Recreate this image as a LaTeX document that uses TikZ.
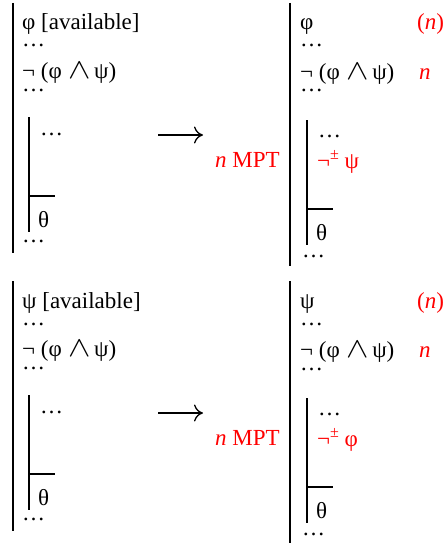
\documentclass[tikz,border=0pt]{standalone}
\usepackage{fontspec}
\usepackage{graphicx}
\setmainfont{Liberation Serif}
\usetikzlibrary{arrows.meta}
\newcommand\fs{\fontsize{23}{24}\selectfont}
\newcommand\andsym{\scalebox{1.35}[1.15]{\(\wedge\)}}
\newcommand\pmsup{\raisebox{0.36em}{\fontsize{16}{16}\selectfont ±}}
\newcommand\negconj{¬ (φ\hspace{7pt}\andsym\hspace{3pt}ψ)}
\newcommand\mypanel[4]{%
\begin{scope}[yshift=#2]
 % left derivation
 \coordinate (#1-lt) at (13,3); \coordinate (#1-lb) at (13,253);
 \draw[outerbar] (#1-lt) -- (#1-lb);
 \node[txt] (#1-l1) at (22,30) {#3 [available]};
 \node[dots] (#1-d1) at (22,47) {…};
 \node[txt] (#1-l2) at (22,78) {\negconj};
 \node[dots] (#1-d2) at (22,91) {…};
 \coordinate (#1-it) at (29,117); \coordinate (#1-ib) at (29,232);
 \draw[innerbar] (#1-it) -- (#1-ib);
 \node[dots] (#1-d3) at (40,135) {…};
 \coordinate (#1-hl) at (29,196); \coordinate (#1-hr) at (55,196);
 \draw[rulebar] (#1-hl) -- (#1-hr);
 \node[txt] (#1-th) at (38,227) {θ};
 \node[dots] (#1-d4) at (22,242) {…};
 % arrow
 \coordinate (#1-as) at (158,135); \coordinate (#1-ae) at (203,135);
 \draw[arr] (#1-as) -- (#1-ae);
 \node[txt,hl] (#1-mpt) at (215,167) {\textit{n} MPT};
 % right derivation
 \coordinate (#1-rt) at (290,3); \coordinate (#1-rb) at (290,266);
 \draw[outerbar] (#1-rt) -- (#1-rb);
 \node[txt] (#1-r1) at (300,30) {#3};
 \node[txt,hl] (#1-rn1) at (417,30) {(\textit{n})};
 \node[dots] (#1-rd1) at (300,47) {…};
 \node[txt] (#1-r2) at (300,79) {\negconj};
 \node[txt,hl] (#1-rn2) at (419,79) {\textit{n}};
 \node[dots] (#1-rd2) at (300,92) {…};
 \coordinate (#1-rit) at (307,120); \coordinate (#1-rib) at (307,245);
 \draw[innerbar] (#1-rit) -- (#1-rib);
 \node[dots] (#1-rd3) at (318,137) {…};
 \node[txt,hl] (#1-neg) at (317,168) {¬\pmsup\ #4};
 \coordinate (#1-rhl) at (307,209); \coordinate (#1-rhr) at (333,209);
 \draw[rulebar] (#1-rhl) -- (#1-rhr);
 \node[txt] (#1-rth) at (316,240) {θ};
 \node[dots] (#1-rd4) at (302,257) {…};
\end{scope}}
\begin{document}
\begin{tikzpicture}[x=1pt,y=-1pt,
  txt/.style={anchor=base west,inner sep=0pt,font=\fs},
  dots/.style={txt,text height=3pt,text depth=0pt},
  hl/.style={text=red},
  outerbar/.style={line width=1.7pt},
  innerbar/.style={line width=1.2pt},
  rulebar/.style={line width=1.2pt},
  arr/.style={line width=1.3pt,-{Computer Modern Rightarrow[length=9pt,width=17pt]}}]
\useasboundingbox (0,0) rectangle (446,543);
\mypanel{a}{0pt}{φ}{ψ}
\mypanel{b}{-278pt}{ψ}{φ}
\end{tikzpicture}
\end{document}
